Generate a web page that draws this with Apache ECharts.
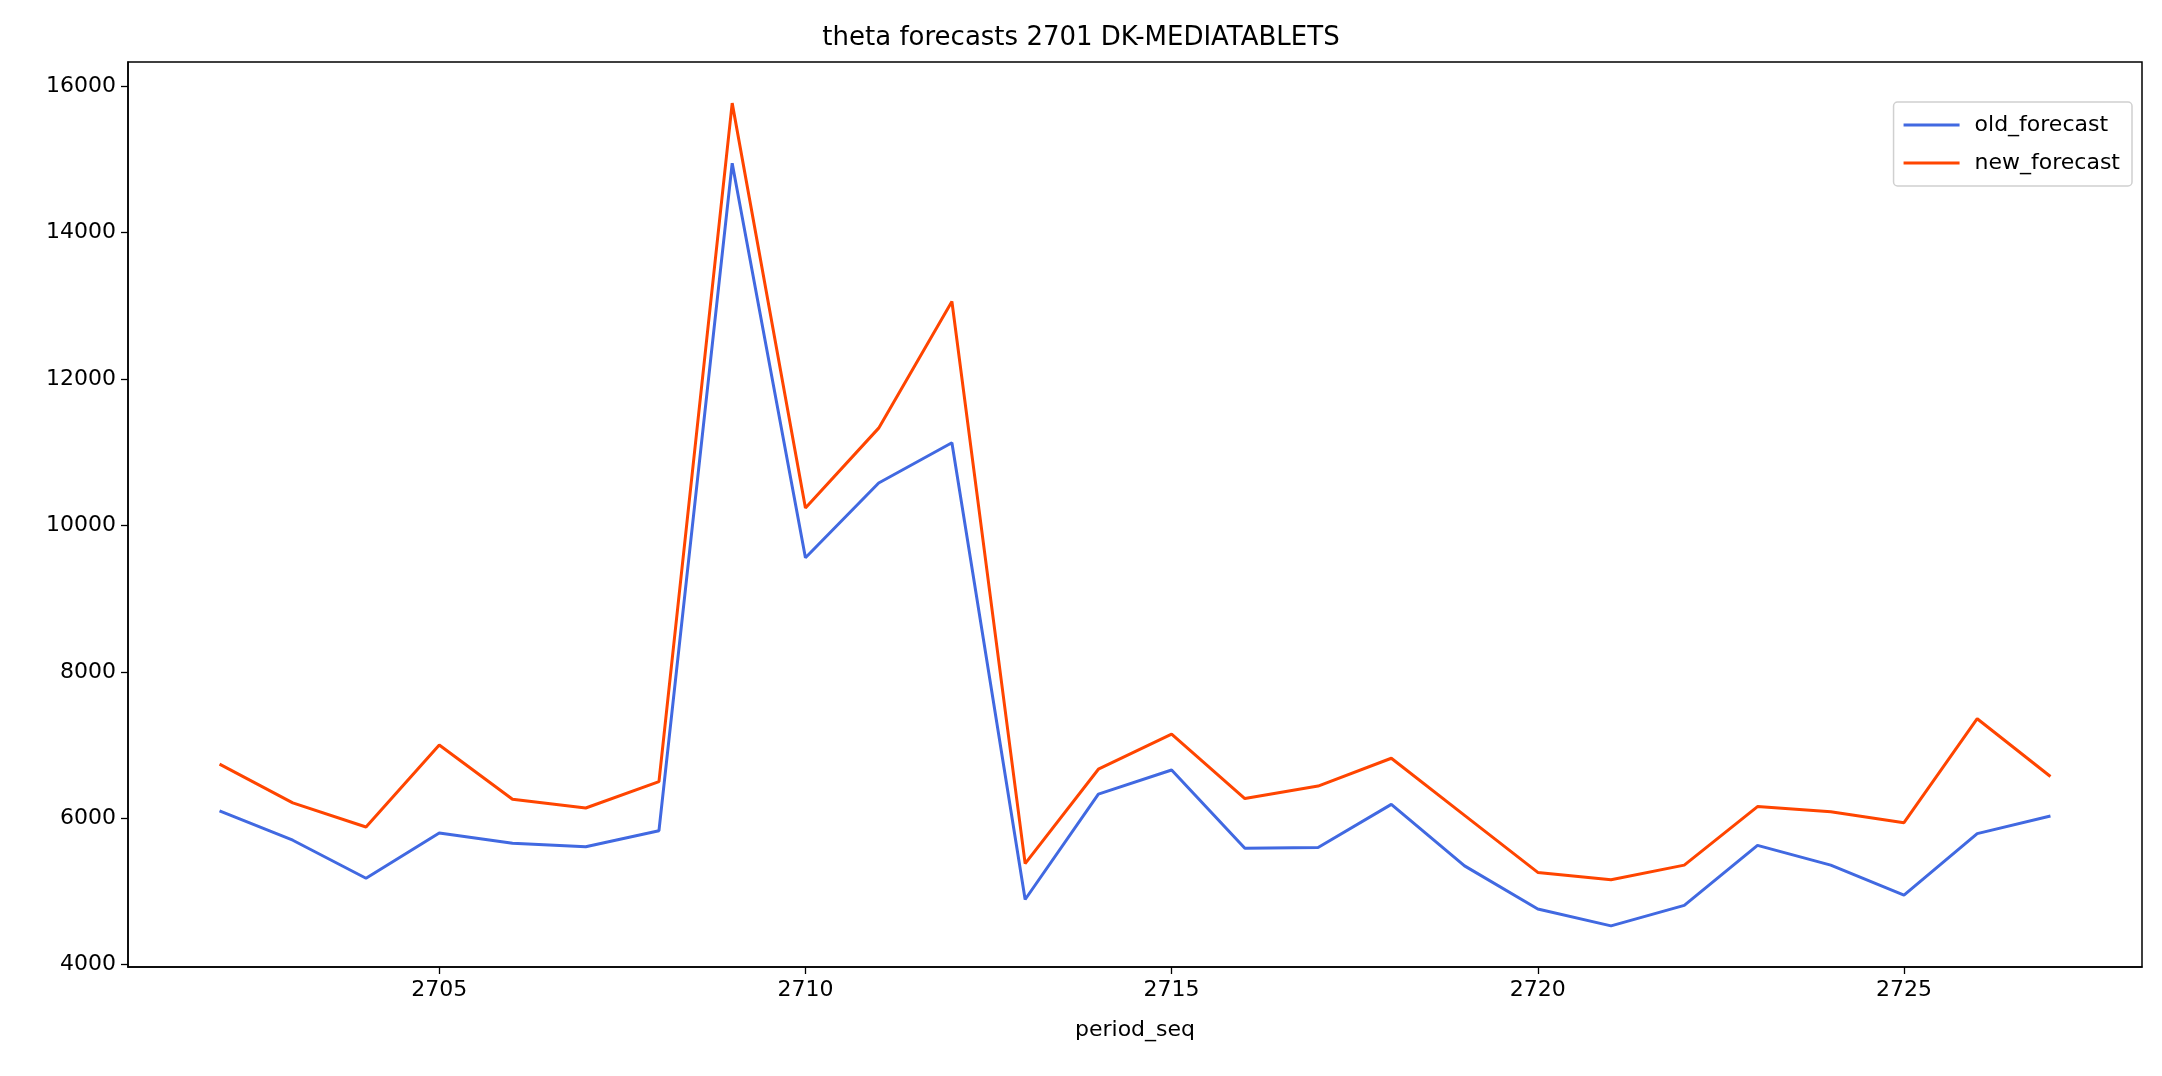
<!DOCTYPE html>
<html>
<head>
<meta charset="utf-8">
<script src="https://cdn.jsdelivr.net/npm/echarts@6/dist/echarts.min.js"></script>
<style>html,body{margin:0;padding:0;background:#fff}#chart{width:2162px;height:1076px}</style>
</head>
<body>
<div id="chart"></div>
<script>
// period_seq on the x axis
const periods = [2702, 2703, 2704, 2705, 2706, 2707, 2708, 2709, 2710, 2711, 2712, 2713, 2714,
  2715, 2716, 2717, 2718, 2719, 2720, 2721, 2722, 2723, 2724, 2725, 2726, 2727];
const oldForecast = [6100, 5700, 5180, 5800, 5660, 5610, 5830, 14950, 9560, 10580, 11130, 4890, 6330,
  6660, 5590, 5600, 6190, 5350, 4760, 4530, 4810, 5630, 5360, 4950, 5790, 6030];
const newForecast = [6740, 6210, 5880, 7000, 6260, 6140, 6500, 15770, 10240, 11330, 13060, 5380, 6670,
  7150, 6270, 6440, 6820, 6040, 5260, 5160, 5360, 6160, 6090, 5940, 7360, 6570];
const xTicks = [2705, 2710, 2715, 2720, 2725];
const yTicks = [4000, 6000, 8000, 10000, 12000, 14000, 16000];

const font = 'DejaVu Sans';
const chart = echarts.init(document.getElementById('chart'));

const pair = arr => periods.map((p, i) => [p, arr[i]]);

const option = {
  animation: false,
  textStyle: { fontFamily: font },
  title: {
    text: 'theta forecasts 2701 DK-MEDIATABLETS',
    left: 'center',
    top: 20,
    textStyle: { fontFamily: font, fontWeight: 'normal', fontSize: 26, color: '#000' },
  },
  legend: {
    right: 30,
    top: 102,
    orient: 'vertical',
    itemWidth: 56,
    itemHeight: 3,
    itemGap: 16,
    icon: 'rect',
    padding: [12, 12, 12, 10],
    borderColor: '#d0d0d0',
    borderWidth: 1.5,
    borderRadius: 4,
    textStyle: { fontFamily: font, fontSize: 22, color: '#000', padding: [0, 0, 0, 10] },
    data: ['old_forecast', 'new_forecast'],
  },
  grid: { left: 128, right: 20, top: 62, bottom: 109, containLabel: false },
  xAxis: {
    type: 'value',
    min: 2700.75,
    max: 2728.25,
    name: 'period_seq',
    nameLocation: 'middle',
    nameGap: 52,
    nameTextStyle: { fontFamily: font, fontSize: 22, color: '#000' },
    axisLine: { onZero: false, lineStyle: { color: '#000', width: 1.5 } },
    axisTick: { customValues: xTicks, length: 7, lineStyle: { color: '#000', width: 1.3 } },
    axisLabel: { customValues: xTicks, fontSize: 22, color: '#000', margin: 12, formatter: v => String(v) },
    splitLine: { show: false },
  },
  yAxis: {
    type: 'value',
    min: 3968,
    max: 16332,
    axisLine: { show: true, onZero: false, lineStyle: { color: '#000', width: 1.5 } },
    axisTick: { show: true, customValues: yTicks, length: 7, lineStyle: { color: '#000', width: 1.3 } },
    axisLabel: { customValues: yTicks, fontSize: 22, color: '#000', margin: 12, formatter: v => String(v) },
    splitLine: { show: false },
  },
  series: [
    {
      name: 'old_forecast', type: 'line', data: pair(oldForecast), showSymbol: false,
      lineStyle: { color: '#4169e1', width: 3 }, itemStyle: { color: '#4169e1' },
    },
    {
      name: 'new_forecast', type: 'line', data: pair(newForecast), showSymbol: false,
      lineStyle: { color: '#ff4500', width: 3 }, itemStyle: { color: '#ff4500' },
    },
  ],
};
chart.setOption(option);
// box on top and right like matplotlib
chart.setOption({
  graphic: [{
    type: 'rect', silent: true,
    shape: { x: 128, y: 62, width: 2162 - 128 - 20, height: 1076 - 62 - 109 },
    style: { fill: 'none', stroke: '#000', lineWidth: 1.5 },
  }],
});
</script>
</body>
</html>
